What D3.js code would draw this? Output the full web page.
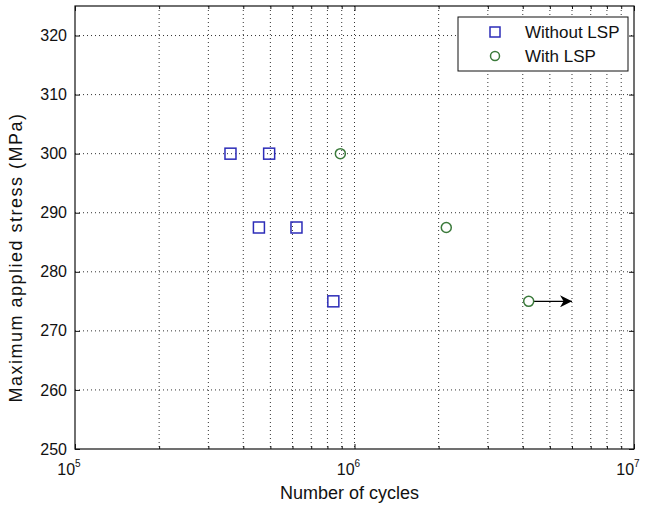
<!DOCTYPE html>
<html lang="en">
  <head>
    <meta charset="utf-8" />
    <title>Stress vs cycles</title>
    <style>
      body { margin: 0; background: #fff; }
      svg text { font-family: "Liberation Sans", Arial, sans-serif; fill: #111; }
    </style>
  </head>
  <body>
    <svg id="chart" width="646" height="505"></svg>
    <script src="https://d3js.org/d3.v7.min.js"></script>
    <script>
      // data
      var withoutCycles = [3.6e5, 4.95e5, 4.55e5, 6.2e5, 8.4e5];
      var withoutStress = [300, 300, 287.5, 287.5, 275];
      var withCycles = [8.9e5, 2.13e6, 4.2e6];
      var withStress = [300, 287.5, 275];
      // run-out arrow on the last LSP specimen
      var arrowFrom = [4.2e6, 275];
      var arrowTo = [6.0e6, 275];

      var yTicks = [250, 260, 270, 280, 290, 300, 310, 320];
      var xDecades = [5, 6, 7];
      var legendLabels = ["Without LSP", "With LSP"];

      var margin = { top: 6, right: 12, bottom: 56, left: 75 };
      var width = 646 - margin.left - margin.right,
        height = 505 - margin.top - margin.bottom;

      var svg = d3
        .select("#chart")
        .append("g")
        .attr("transform", "translate(" + margin.left + "," + margin.top + ")");

      var x = d3.scaleLog().domain([1e5, 1e7]).range([0, width]);
      var y = d3.scaleLinear().domain([250, 325]).range([height, 0]);

      // minor + major positions on the log axis
      var xAll = [];
      for (var k = 5; k < 7; k++) {
        for (var m = 1; m <= 9; m++) xAll.push(m * Math.pow(10, k));
      }
      xAll.push(1e7);
      var xMinor = xAll.filter(function (v) {
        var l = Math.log10(v);
        return Math.abs(l - Math.round(l)) > 1e-9;
      });

      // grid
      var grid = svg.append("g").attr("class", "grid");
      grid
        .selectAll("line.vx")
        .data(xAll.filter(function (v) { return v > 1e5 && v < 1e7; }))
        .enter()
        .append("line")
        .attr("x1", function (d) { return x(d); })
        .attr("x2", function (d) { return x(d); })
        .attr("y1", 0)
        .attr("y2", height)
        .attr("stroke", "#333")
        .attr("stroke-width", 1)
        .attr("stroke-dasharray", "1,3");
      grid
        .selectAll("line.hy")
        .data(yTicks.filter(function (v) { return v > 250; }))
        .enter()
        .append("line")
        .attr("x1", 0)
        .attr("x2", width)
        .attr("y1", function (d) { return y(d); })
        .attr("y2", function (d) { return y(d); })
        .attr("stroke", "#333")
        .attr("stroke-width", 1)
        .attr("stroke-dasharray", "1,3");

      // axes, ticks inside on all sides
      var yAxis = d3.axisLeft(y).tickValues(yTicks).tickSize(-5).tickPadding(8);
      var yAxisR = d3.axisRight(y).tickValues(yTicks).tickSize(-5).tickFormat("");
      var xAxisMaj = d3.axisBottom(x).tickValues([1e5, 1e6, 1e7]).tickSize(-5).tickFormat("");
      var xAxisMin = d3.axisBottom(x).tickValues(xMinor).tickSize(-3).tickFormat("");
      var xAxisTopMaj = d3.axisTop(x).tickValues([1e5, 1e6, 1e7]).tickSize(-5).tickFormat("");
      var xAxisTopMin = d3.axisTop(x).tickValues(xMinor).tickSize(-3).tickFormat("");

      svg.append("g").attr("class", "y axis").call(yAxis);
      svg.append("g").attr("transform", "translate(" + width + ",0)").call(yAxisR);
      svg.append("g").attr("transform", "translate(0," + height + ")").call(xAxisMaj);
      svg.append("g").attr("transform", "translate(0," + height + ")").call(xAxisMin);
      svg.append("g").call(xAxisTopMaj);
      svg.append("g").call(xAxisTopMin);

      svg.selectAll(".domain").remove();
      svg.selectAll(".tick line").attr("stroke", "#111");
      svg.selectAll(".y.axis text").style("font-size", "16px");

      svg
        .append("rect")
        .attr("width", width)
        .attr("height", height)
        .attr("fill", "none")
        .attr("stroke", "#111")
        .attr("stroke-width", 1.2);

      // x tick labels 10^k
      var xl = svg
        .selectAll("text.xl")
        .data(xDecades)
        .enter()
        .append("text")
        .attr("class", "xl")
        .attr("x", function (d) { return x(Math.pow(10, d)) - 6; })
        .attr("y", height + 26)
        .attr("text-anchor", "middle")
        .style("font-size", "16px");
      xl.append("tspan").text("10");
      xl.append("tspan")
        .attr("dy", -8)
        .style("font-size", "10px")
        .text(function (d) { return d; });

      // axis titles
      svg
        .append("text")
        .attr("x", width / 2 - 5)
        .attr("y", height + 50)
        .attr("text-anchor", "middle")
        .style("font-size", "18px")
        .text("Number of cycles");
      svg
        .append("text")
        .attr("transform", "translate(-53," + (height / 2 + 30) + ") rotate(-90)")
        .attr("text-anchor", "middle")
        .style("font-size", "18px")
        .style("letter-spacing", "1.5px")
        .text("Maximum applied stress (MPa)");

      var blue = "#2c2cb8",
        green = "#3b7a3b";

      // squares
      svg
        .selectAll("rect.sq")
        .data(withoutCycles)
        .enter()
        .append("rect")
        .attr("class", "sq")
        .attr("x", function (d) { return x(d) - 5.5; })
        .attr("y", function (d, i) { return y(withoutStress[i]) - 5.5; })
        .attr("width", 11)
        .attr("height", 11)
        .attr("fill", "none")
        .attr("stroke", blue)
        .attr("stroke-width", 1.5);

      // arrow
      svg
        .append("defs")
        .append("marker")
        .attr("id", "ah")
        .attr("viewBox", "0 0 10 10")
        .attr("refX", 10)
        .attr("refY", 5)
        .attr("markerWidth", 18)
        .attr("markerHeight", 12)
        .attr("markerUnits", "userSpaceOnUse")
        .attr("orient", "auto")
        .append("path")
        .attr("d", "M0,0 L10,5 L0,10 L3,5 Z")
        .attr("fill", "#000");
      svg
        .append("line")
        .attr("x1", x(arrowFrom[0]) + 5)
        .attr("y1", y(arrowFrom[1]))
        .attr("x2", x(arrowTo[0]))
        .attr("y2", y(arrowTo[1]))
        .attr("stroke", "#000")
        .attr("stroke-width", 1.3)
        .attr("marker-end", "url(#ah)");

      // circles
      svg
        .selectAll("circle.ci")
        .data(withCycles)
        .enter()
        .append("circle")
        .attr("class", "ci")
        .attr("cx", function (d) { return x(d); })
        .attr("cy", function (d, i) { return y(withStress[i]); })
        .attr("r", 5)
        .attr("fill", "none")
        .attr("stroke", green)
        .attr("stroke-width", 1.5);

      // legend
      var lg = svg.append("g").attr("transform", "translate(" + (458 - margin.left) + "," + (17 - margin.top) + ")");
      lg.append("rect")
        .attr("width", 170)
        .attr("height", 54)
        .attr("fill", "#fff")
        .attr("stroke", "#111")
        .attr("stroke-width", 1);
      lg.append("rect")
        .attr("x", 32)
        .attr("y", 10)
        .attr("width", 10)
        .attr("height", 10)
        .attr("fill", "none")
        .attr("stroke", blue)
        .attr("stroke-width", 1.5);
      lg.append("circle")
        .attr("cx", 37)
        .attr("cy", 39)
        .attr("r", 4.5)
        .attr("fill", "none")
        .attr("stroke", green)
        .attr("stroke-width", 1.5);
      lg.selectAll("text")
        .data(legendLabels)
        .enter()
        .append("text")
        .attr("x", 67)
        .attr("y", function (d, i) { return 21 + i * 24; })
        .style("font-size", "17px")
        .text(function (d) { return d; });
    </script>
  </body>
</html>
